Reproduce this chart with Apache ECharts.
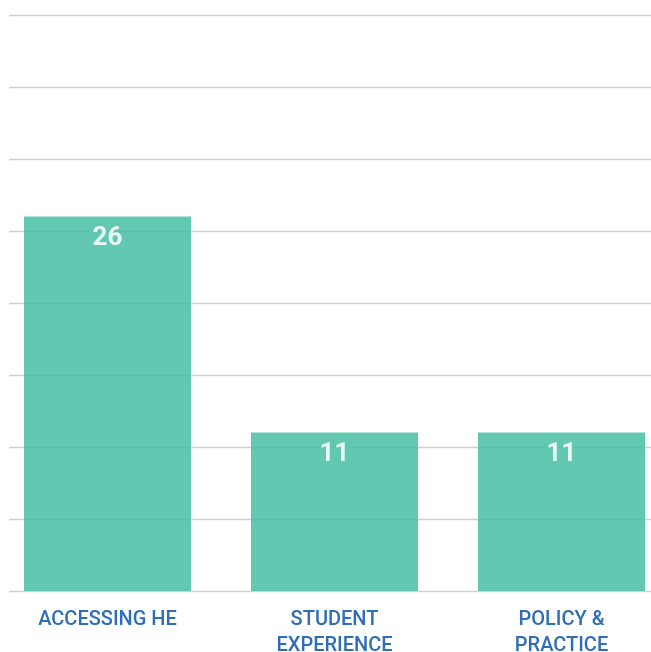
<!DOCTYPE html>
<html><head><meta charset="utf-8">
<script src="https://cdn.jsdelivr.net/npm/echarts@6/dist/echarts.min.js"></script>
<style>html,body{margin:0;padding:0;background:#fff}#c{width:651px;height:652px}</style>
</head><body><div id="c"></div>
<script>
const categories = ['ACCESSING HE', 'STUDENT\nEXPERIENCE', 'POLICY &\nPRACTICE'];
const values = [26, 11, 11];
const axisMax = 40;
const axisStep = 5;

const chart = echarts.init(document.getElementById('c'));
chart.setOption({
  animation: false,
  grid: [
    { left: -6, width: 681, top: 15, bottom: 61, containLabel: false, outerBoundsMode: 'none' },
    { left: 9, right: 0, top: 15, bottom: 61, containLabel: false, outerBoundsMode: 'none' }
  ],
  xAxis: [
    { gridIndex: 0, type: 'category', data: categories,
      axisLine: { show: false }, axisTick: { show: false },
      axisLabel: { color: '#2e6db7', fontFamily: 'Roboto', fontWeight: 500, fontSize: 20, lineHeight: 26, margin: 16 } },
    { gridIndex: 1, type: 'value', show: false }
  ],
  yAxis: [
    { gridIndex: 0, type: 'value', min: 0, max: axisMax, interval: axisStep, show: false, splitLine: { show: false } },
    { gridIndex: 1, type: 'value', min: 0, max: axisMax, interval: axisStep,
      axisLine: { show: false }, axisTick: { show: false }, axisLabel: { show: false },
      splitLine: { show: true, lineStyle: { color: '#cfcfd3', width: 1.3 } } }
  ],
  series: [{
    type: 'bar', xAxisIndex: 0, yAxisIndex: 0, data: values,
    barWidth: 167,
    itemStyle: { color: 'rgb(76,192,167)', opacity: 0.87 },
    label: { show: true, position: 'insideTop', distance: 9, color: '#fff',
      fontFamily: 'Roboto', fontWeight: 'bold', fontSize: 26 }
  }]
});
</script></body></html>
